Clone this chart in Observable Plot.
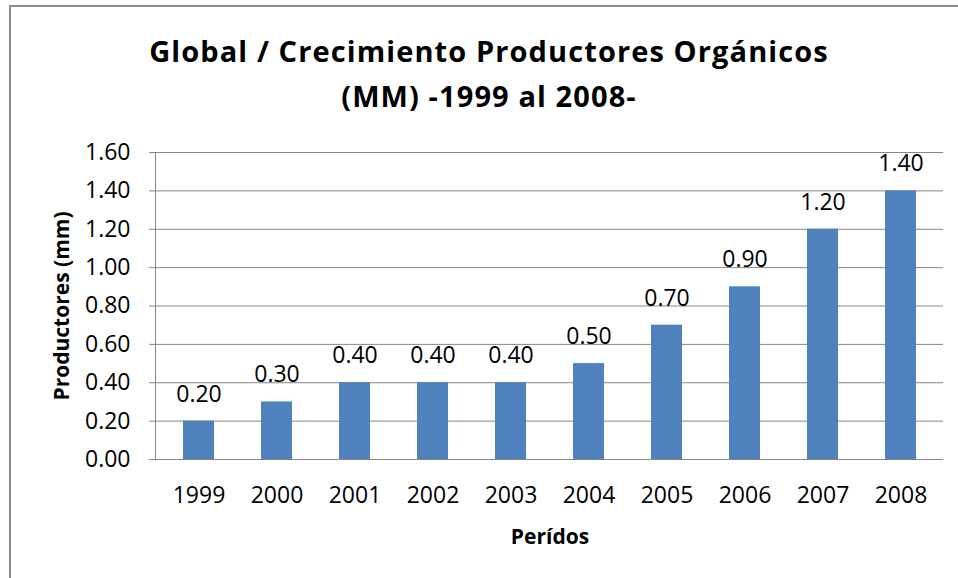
<!DOCTYPE html>
<html><head><meta charset="utf-8">
<script src="https://cdn.jsdelivr.net/npm/d3@7"></script>
<script src="https://cdn.jsdelivr.net/npm/@observablehq/plot@0.6"></script>
<style>
html,body{margin:0;padding:0;background:#fff;}
#wrap{position:relative;width:958px;height:578px;overflow:hidden;background:#fff;font-family:"Open Sans",sans-serif;}
#frame{position:absolute;left:9px;top:5px;width:1200px;height:1200px;border:2px solid #8c8c8c;box-sizing:border-box;}
#title{position:absolute;left:0;top:28px;width:978px;text-align:center;font-weight:bold;font-size:29px;letter-spacing:1.1px;line-height:45px;color:#000;}
#chart{position:absolute;left:0;top:0;}
</style></head>
<body><div id="wrap"><div id="frame"></div><div id="title"></div><div id="chart"></div></div>
<script>
const titleLines = ["Global / Crecimiento Productores Orgánicos", "(MM) -1999 al 2008-"];
const years = ["1999", "2000", "2001", "2002", "2003", "2004", "2005", "2006", "2007", "2008"];
const values = [0.20, 0.30, 0.40, 0.40, 0.40, 0.50, 0.70, 0.90, 1.20, 1.40];
const yTicks = [0, 0.2, 0.4, 0.6, 0.8, 1.0, 1.2, 1.4, 1.6];
const yLabel = "Productores (mm)";
const xLabel = "Perídos";

const data = years.map((year, i) => ({year, value: values[i]}));
document.getElementById("title").innerHTML = titleLines.map(t => `<div>${t}</div>`).join("");

const gridColor = "#868686";
const axisLine = (index, scales, values, dims) => {
  const g = d3.create("svg:line")
    .attr("x1", dims.marginLeft - 0.5).attr("x2", dims.marginLeft - 0.5)
    .attr("y1", scales.y(yTicks[0])).attr("y2", scales.y(yTicks[yTicks.length - 1]))
    .attr("stroke", gridColor);
  return g.node();
};

const chart = Plot.plot({
  width: 958,
  height: 578,
  marginLeft: 156,
  marginRight: 15,
  marginTop: 152,
  marginBottom: 119,
  style: {background: "transparent", fontFamily: "'Open Sans', sans-serif", fontSize: "23px", color: "#000"},
  x: {domain: years, paddingInner: 0.6, paddingOuter: 0.3, label: null},
  y: {domain: [yTicks[0], yTicks[yTicks.length - 1]], label: null},
  marks: [
    Plot.gridY(yTicks, {stroke: gridColor, strokeOpacity: 1}),
    axisLine,
    Plot.axisY(yTicks, {tickSize: 7, tickPadding: 19, tickFormat: d => d.toFixed(2), stroke: gridColor, fill: "#000", label: null}),
    Plot.axisX({tickSize: 0, tickPadding: 27, fill: "#000", label: null}),
    Plot.barY(data, {x: "year", y: "value", fill: "#4F81BD"}),
    Plot.text(data, {x: "year", y: "value", text: d => d.value.toFixed(2), dy: -27, fill: "#000", fontSize: 23}),
    Plot.text([yLabel], {frameAnchor: "left", textAnchor: "middle", lineAnchor: "middle", dx: -94, rotate: -90, fontWeight: "bold", fontSize: 21, fill: "#000"}),
    Plot.text([xLabel], {frameAnchor: "bottom", textAnchor: "middle", lineAnchor: "middle", dy: 78, fontWeight: "bold", fontSize: 21, fill: "#000"})
  ]
});
document.getElementById("chart").appendChild(chart);
</script>
</body></html>
